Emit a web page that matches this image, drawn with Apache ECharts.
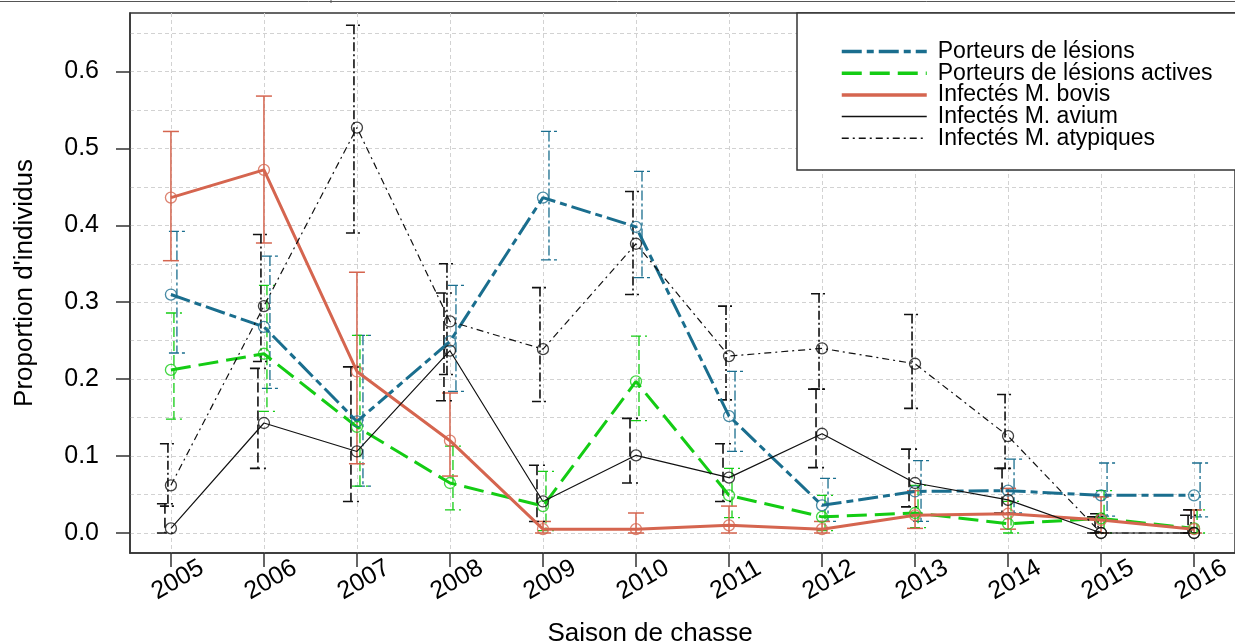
<!DOCTYPE html>
<html>
<head>
<meta charset="utf-8">
<script src="https://cdn.jsdelivr.net/npm/echarts@6/dist/echarts.min.js"></script>
<style>
html,body{margin:0;padding:0;background:#fff;}
#chart{width:1235px;height:644px;}
</style>
</head>
<body>
<div id="chart"></div>
<script>
// ---- data ----
var years = [2005, 2006, 2007, 2008, 2009, 2010, 2011, 2012, 2013, 2014, 2015, 2016];
var yTicks = [0, 0.1, 0.2, 0.3, 0.4, 0.5, 0.6];
var yGrid = [0, 0.05, 0.1, 0.15, 0.2, 0.25, 0.3, 0.35, 0.4, 0.45, 0.5, 0.55, 0.6, 0.65];

var seriesNames = ["Porteurs de lésions", "Porteurs de lésions actives", "Infectés M. bovis", "Infectés M. avium", "Infectés M. atypiques"];

var lesions     = [0.310, 0.268, 0.145, 0.249, 0.436, 0.398, 0.152, 0.036, 0.054, 0.055, 0.049, 0.049];
var lesionsLow  = [0.234, 0.188, 0.061, 0.184, 0.355, 0.332, 0.106, 0.015, 0.015, 0.026, 0.022, 0.021];
var lesionsHigh = [0.392, 0.360, 0.257, 0.322, 0.522, 0.470, 0.210, 0.071, 0.094, 0.096, 0.091, 0.091];

var actives     = [0.212, 0.233, 0.138, 0.065, 0.035, 0.197, 0.049, 0.021, 0.026, 0.012, 0.019, 0.006];
var activesLow  = [0.148, 0.158, 0.061, 0.030, 0.003, 0.146, 0.020, 0.003, 0.007, 0.000, 0.000, 0.000];
var activesHigh = [0.286, 0.322, 0.257, 0.113, 0.080, 0.256, 0.084, 0.049, 0.062, 0.041, 0.055, 0.030];

var bovis     = [0.436, 0.472, 0.210, 0.120, 0.005, 0.005, 0.010, 0.005, 0.023, 0.025, 0.017, 0.005];
var bovisLow  = [0.354, 0.377, 0.090, 0.074, 0.000, 0.000, 0.000, 0.000, 0.006, 0.005, 0.000, 0.000];
var bovisHigh = [0.522, 0.568, 0.339, 0.182, 0.015, 0.026, 0.035, 0.015, 0.055, 0.058, 0.047, 0.030];

var avium     = [0.006, 0.143, 0.106, 0.237, 0.041, 0.101, 0.072, 0.129, 0.065, 0.043, 0.000, 0.000];
var aviumLow  = [0.000, 0.084, 0.041, 0.172, 0.015, 0.065, 0.041, 0.085, 0.034, 0.026, 0.000, 0.000];
var aviumHigh = [0.038, 0.214, 0.216, 0.312, 0.088, 0.149, 0.116, 0.187, 0.109, 0.084, 0.021, 0.023];

var atyp     = [0.062, 0.295, 0.527, 0.275, 0.239, 0.376, 0.230, 0.240, 0.220, 0.126, 0.000, 0.000];
var atypLow  = [0.035, 0.223, 0.390, 0.206, 0.171, 0.310, 0.173, 0.187, 0.162, 0.084, 0.000, 0.000];
var atypHigh = [0.116, 0.388, 0.660, 0.350, 0.319, 0.444, 0.295, 0.311, 0.284, 0.180, 0.025, 0.030];

// ---- styling ----
var FONT = "Liberation Sans, Arial, sans-serif";
var BLUE = "#1A6E8E", GREEN = "#14CC14", RED = "#D5654F", BLACK = "#111111";

var styles = [
  {color: BLUE,  width: 3,   dash: [20, 5, 7, 5], barDash: [10, 3, 3, 3], barWidth: 1.3, off: 6},
  {color: GREEN, width: 3,   dash: [20, 8],       barDash: [10, 4],       barWidth: 1.3, off: 3},
  {color: RED,   width: 3,   dash: null,          barDash: null,          barWidth: 1.5, off: 0},
  {color: BLACK, width: 1.2, dash: null,          barDash: [10, 4],       barWidth: 1.6, off: -6},
  {color: BLACK, width: 1.2, dash: [7, 4, 2, 4],  barDash: [9, 3, 2, 3],  barWidth: 1.6, off: -3}
];
var values = [lesions, actives, bovis, avium, atyp];
var lows = [lesionsLow, activesLow, bovisLow, aviumLow, atypLow];
var highs = [lesionsHigh, activesHigh, bovisHigh, aviumHigh, atypHigh];

function pairs(v) { return years.map(function (y, i) { return [y, v[i]]; }); }
function triples(lo, hi) { return years.map(function (y, i) { return [y, lo[i], hi[i]]; }); }

function errRender(st) {
  return function (params, api) {
    var x = api.value(0), lo = api.value(1), hi = api.value(2);
    var pLo = api.coord([x, lo]), pHi = api.coord([x, hi]);
    var cx = pLo[0] + st.off, hw = 8;
    var style = {stroke: st.color, lineWidth: st.barWidth, lineDash: st.barDash, fill: null};
    return {
      type: "group",
      children: [
        {type: "line", shape: {x1: cx, y1: pHi[1], x2: cx, y2: pLo[1]}, style: style},
        {type: "line", shape: {x1: cx - hw, y1: pHi[1], x2: cx + hw, y2: pHi[1]}, style: style},
        {type: "line", shape: {x1: cx - hw, y1: pLo[1], x2: cx + hw, y2: pLo[1]}, style: style}
      ]
    };
  };
}

var series = [];
values.forEach(function (v, k) {
  var st = styles[k];
  series.push({
    name: seriesNames[k] + " IC",
    type: "custom",
    renderItem: errRender(st),
    data: triples(lows[k], highs[k]),
    encode: {x: 0, y: [1, 2]},
    z: 2,
    silent: true
  });
});
values.forEach(function (v, k) {
  var st = styles[k];
  series.push({
    name: seriesNames[k],
    type: "line",
    data: pairs(v),
    symbol: "none",
    lineStyle: {color: st.color, width: st.width, type: st.dash || "solid"},
    itemStyle: {color: st.color},
    z: 3,
    silent: true,
    animation: false
  });
  series.push({
    name: seriesNames[k] + " pts",
    type: "scatter",
    data: pairs(v),
    symbol: "circle",
    symbolSize: 11,
    itemStyle: {color: "rgba(0,0,0,0)", borderColor: st.color, borderWidth: 1.3},
    z: 4,
    silent: true
  });
});

var chart = echarts.init(document.getElementById("chart"), null, {renderer: "canvas"});
chart.setOption({
  animation: false,
  backgroundColor: "#ffffff",
  grid: {left: 130, top: 13, width: 1107, height: 540, show: true, borderColor: "#333", borderWidth: 1.5, backgroundColor: "transparent"},
  xAxis: {
    type: "value", min: 2004.56, max: 2016.44,
    axisLine: {show: true, onZero: false, lineStyle: {color: "#333", width: 1.5}},
    axisTick: {show: true, length: 14, customValues: years, lineStyle: {color: "#333", width: 1.5}},
    axisLabel: {
      customValues: years, rotate: 30, align: "center", verticalAlign: "middle",
      margin: 31, padding: [0, 0, 0, 16],
      fontSize: 25, fontFamily: FONT, color: "#000",
      formatter: function (v) { return String(Math.round(v)); }
    },
    splitLine: {show: true, lineStyle: {color: "#d2d2d2", width: 1, type: [4, 3]}}
  },
  yAxis: [
    {
      type: "value", min: -0.026, max: 0.676,
      axisLine: {show: true, onZero: false, lineStyle: {color: "#333", width: 1.5}},
      axisTick: {show: true, length: 14, customValues: yTicks, lineStyle: {color: "#333", width: 1.5}},
      axisLabel: {
        customValues: yTicks, margin: 31, fontSize: 25, fontFamily: FONT, color: "#000",
        formatter: function (v) { return v.toFixed(1); }
      },
      splitLine: {show: false}
    },
    {
      type: "value", min: -0.026, max: 0.676, position: "left",
      axisLine: {show: false}, axisLabel: {show: false},
      axisTick: {show: false, customValues: yGrid},
      splitLine: {show: true, lineStyle: {color: "#d2d2d2", width: 1, type: [4, 3]}}
    }
  ],
  legend: {
    orient: "vertical", left: 835, top: 35,
    itemWidth: 85, itemHeight: 14, itemGap: -1.3,
    itemStyle: {opacity: 0},
    textStyle: {fontSize: 23, lineHeight: 22, fontFamily: FONT, color: "#000", padding: [0, 0, 0, 6]},
    selectedMode: false,
    data: seriesNames.map(function (n, k) {
      return {name: n, lineStyle: {width: styles[k].width === 3 ? 3.5 : 1.5, type: styles[k].dash || "solid", color: styles[k].color}};
    }),
    z: 10
  },
  graphic: [
    {type: "rect", shape: {x: 797, y: 13, width: 460, height: 157}, style: {fill: "#fff", stroke: "#333", lineWidth: 1.5}, z: 8},
    {type: "line", shape: {x1: 0, y1: 1.5, x2: 1235, y2: 1.5}, style: {stroke: "#555", lineWidth: 1}, z: 8},
    {type: "line", shape: {x1: 331, y1: 0, x2: 331, y2: 3}, style: {stroke: "#555", lineWidth: 1}, z: 8},
    {type: "text", x: 650, y: 634, style: {text: "Saison de chasse", fontSize: 26, fontFamily: FONT, fill: "#000", textAlign: "center", textVerticalAlign: "middle"}, z: 8},
    {type: "text", x: 25, y: 283, rotation: Math.PI / 2, style: {text: "Proportion d'individus", fontSize: 26, fontFamily: FONT, fill: "#000", textAlign: "center", textVerticalAlign: "middle"}, z: 8}
  ],
  series: series
});
</script>
</body>
</html>
